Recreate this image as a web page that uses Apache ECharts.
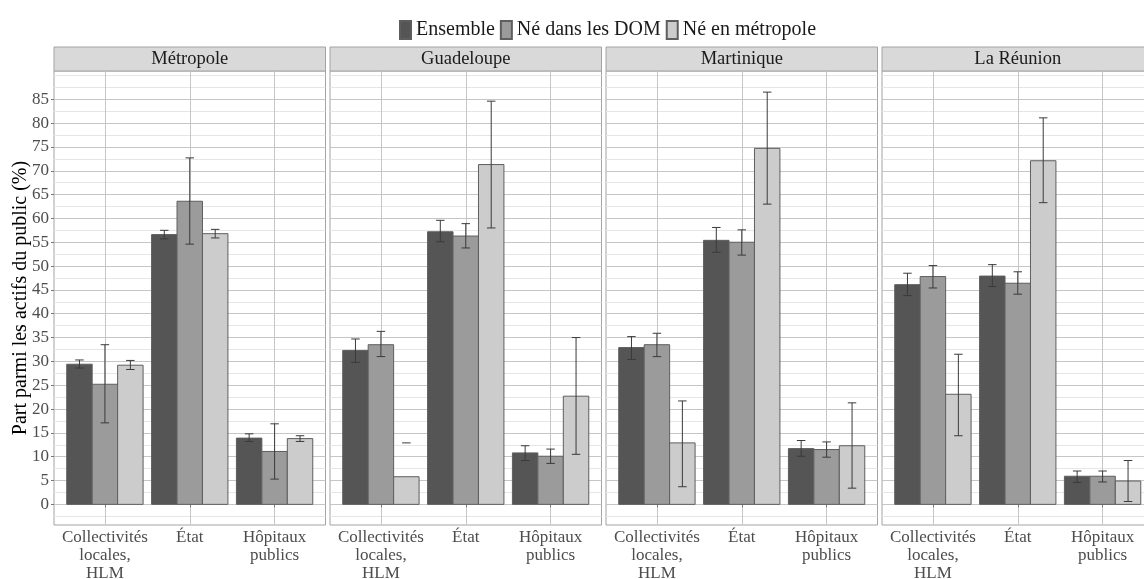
<!DOCTYPE html>
<html>
<head>
<meta charset="utf-8">
<script src="https://cdn.jsdelivr.net/npm/echarts@6/dist/echarts.min.js"></script>
<style>
  html, body { margin: 0; padding: 0; background: #fff; }
  #chart { width: 1144px; height: 579px; }
</style>
</head>
<body>
<div id="chart"></div>
<script>
// categories / groups / facets
const categories = ['Collectivités\nlocales,\nHLM', 'État', 'Hôpitaux\npublics'];
const groups = ['Ensemble', 'Né dans les DOM', 'Né en métropole'];
const regions = ['Métropole', 'Guadeloupe', 'Martinique', 'La Réunion'];

// values per region: one row per group, one column per category
const metropoleValues = [[29.4, 56.6, 13.9], [25.2, 63.6, 11.1], [29.2, 56.8, 13.8]];
const metropoleLow = [[28.6, 55.7, 13.2], [17.1, 54.6, 5.3], [28.3, 55.9, 13.2]];
const metropoleHigh = [[30.3, 57.5, 14.8], [33.5, 72.7, 16.9], [30.2, 57.7, 14.4]];

const guadeloupeValues = [[32.3, 57.2, 10.8], [33.5, 56.3, 10.1], [5.8, 71.3, 22.7]];
const guadeloupeLow = [[29.8, 55.1, 9.2], [31.0, 53.8, 8.6], [null, 58.0, 10.5]];
const guadeloupeHigh = [[34.7, 59.6, 12.3], [36.3, 58.9, 11.6], [12.9, 84.6, 35.0]];

const martiniqueValues = [[32.9, 55.4, 11.7], [33.5, 55.0, 11.5], [12.9, 74.7, 12.3]];
const martiniqueLow = [[30.4, 52.9, 10.1], [31.0, 52.3, 9.9], [3.7, 63.0, 3.4]];
const martiniqueHigh = [[35.2, 58.1, 13.4], [35.9, 57.6, 13.1], [21.7, 86.5, 21.3]];

const reunionValues = [[46.1, 47.9, 5.9], [47.8, 46.4, 5.9], [23.1, 72.1, 4.9]];
const reunionLow = [[43.8, 45.7, 4.6], [45.4, 44.1, 4.7], [14.4, 63.3, 0.6]];
const reunionHigh = [[48.5, 50.3, 7.0], [50.1, 48.8, 7.0], [31.5, 81.1, 9.2]];

const majorTicks = [0, 5, 10, 15, 20, 25, 30, 35, 40, 45, 50, 55, 60, 65, 70, 75, 80, 85];
const minorTicks = [-2.5, 2.5, 7.5, 12.5, 17.5, 22.5, 27.5, 32.5, 37.5, 42.5, 47.5, 52.5, 57.5, 62.5, 67.5, 72.5, 77.5, 82.5, 87.5, 90];
const categoryTicks = [1, 2, 3];

const allValues = [metropoleValues, guadeloupeValues, martiniqueValues, reunionValues];
const allLow = [metropoleLow, guadeloupeLow, martiniqueLow, reunionLow];
const allHigh = [metropoleHigh, guadeloupeHigh, martiniqueHigh, reunionHigh];

const yMin = -4.33;
const yMax = 90.93;

const FONT = 'Liberation Serif';
const fills = ['#555555', '#9b9b9b', '#cccccc'];
const errColor = '#3a3a3a';
const panelLeft = [54, 330, 606, 882];
const panelWidth = 271.5;
const panelTop = 71;
const panelHeight = 454;
const stripHeight = 24;

function makeRender(p, g) {
  return function (params, api) {
    const i = params.dataIndex;
    const x = api.value(0);
    const band = api.size([1, 0])[0];
    const barW = band * 0.3;
    const cap = band * 0.1;
    const cx = api.coord([x, 0])[0] + (g - 1) * barW;
    const base = api.coord([x, 0])[1];
    const top = api.coord([x, api.value(1)])[1];
    const children = [{
      type: 'rect',
      shape: { x: cx - barW / 2, y: top, width: barW, height: base - top },
      style: { fill: fills[g], stroke: '#5e5e5e', lineWidth: 1 },
    }];
    const lo = allLow[p][g][i];
    const hi = allHigh[p][g][i];
    const yHi = api.coord([x, hi])[1];
    children.push({
      type: 'line',
      shape: { x1: cx - cap / 2, y1: yHi, x2: cx + cap / 2, y2: yHi },
      style: { stroke: errColor, lineWidth: 1 },
    });
    if (lo != null) {
      const yLo = api.coord([x, lo])[1];
      children.push({
        type: 'line',
        shape: { x1: cx, y1: yHi, x2: cx, y2: yLo },
        style: { stroke: errColor, lineWidth: 1 },
      });
      children.push({
        type: 'line',
        shape: { x1: cx - cap / 2, y1: yLo, x2: cx + cap / 2, y2: yLo },
        style: { stroke: errColor, lineWidth: 1 },
      });
    }
    return { type: 'group', children };
  };
}

const grids = [];
const xAxes = [];
const yAxes = [];
const series = [];
const graphics = [];

regions.forEach((name, p) => {
  grids.push({
    left: panelLeft[p], top: panelTop, width: panelWidth, height: panelHeight,
    outerBoundsMode: 'none',
    containLabel: false,
    show: true, borderColor: '#a3a3a3', borderWidth: 1, backgroundColor: '#fff',
  });
  xAxes.push({
    gridIndex: p,
    type: 'value',
    min: 0.4,
    max: 3.6,
    axisLine: { show: false },
    axisTick: { show: true, length: 3, customValues: categoryTicks, lineStyle: { color: '#777' } },
    axisLabel: {
      customValues: categoryTicks,
      formatter: (v) => categories[Math.round(v) - 1] || '',
      color: '#4d4d4d', fontFamily: FONT, fontSize: 17, lineHeight: 18, margin: 4,
    },
    splitLine: { show: true, lineStyle: { color: '#c6c6c6', width: 1 } },
  });
  yAxes.push({
    gridIndex: p,
    type: 'value',
    min: yMin,
    max: yMax,
    position: 'left',
    axisLine: { show: false },
    axisTick: { show: p === 0, length: 3, customValues: majorTicks, lineStyle: { color: '#777' } },
    axisLabel: {
      show: p === 0, customValues: majorTicks,
      color: '#4d4d4d', fontFamily: FONT, fontSize: 17, margin: 5,
    },
    splitLine: { show: true, lineStyle: { color: '#c6c6c6', width: 1 } },
    name: p === 0 ? 'Part parmi les actifs du public (%)' : '',
    nameLocation: 'middle',
    nameRotate: 90,
    nameGap: 23,
    nameMoveOverlap: false,
    nameTextStyle: { color: '#000', fontFamily: FONT, fontSize: 20 },
  });
  yAxes.push({
    gridIndex: p,
    type: 'value',
    min: yMin,
    max: yMax,
    position: 'right',
    axisLine: { show: false },
    axisTick: { show: false, customValues: minorTicks },
    axisLabel: { show: false, customValues: minorTicks },
    splitLine: { show: true, lineStyle: { color: '#e6e6e6', width: 1 } },
  });
  groups.forEach((gName, g) => {
    series.push({
      type: 'custom',
      name: gName,
      xAxisIndex: p,
      yAxisIndex: 2 * p,
      itemStyle: { color: fills[g], borderColor: '#5e5e5e', borderWidth: 1 },
      renderItem: makeRender(p, g),
      data: categories.map((c, i) => [categoryTicks[i], allValues[p][g][i]]),
      z: 3,
    });
  });
  graphics.push({
    type: 'rect',
    shape: { x: panelLeft[p], y: panelTop - stripHeight, width: panelWidth, height: stripHeight },
    style: { fill: '#d9d9d9', stroke: '#a3a3a3', lineWidth: 1 },
  });
  graphics.push({
    type: 'text',
    x: panelLeft[p] + panelWidth / 2,
    y: panelTop - stripHeight / 2,
    style: {
      text: name, fill: '#1a1a1a', font: '18.5px "Liberation Serif"',
      align: 'center', verticalAlign: 'middle',
    },
  });
});

const chart = echarts.init(document.getElementById('chart'), null, { renderer: 'canvas' });
chart.setOption({
  animation: false,
  backgroundColor: '#fff',
  legend: {
    data: groups,
    left: 394,
    top: 15,
    icon: 'rect',
    itemWidth: 11,
    itemHeight: 18,
    itemGap: 5,
    selectedMode: false,
    textStyle: { color: '#1a1a1a', fontFamily: FONT, fontSize: 20 },
  },
  grid: grids,
  xAxis: xAxes,
  yAxis: yAxes,
  series,
  graphic: graphics,
});
</script>
</body>
</html>
